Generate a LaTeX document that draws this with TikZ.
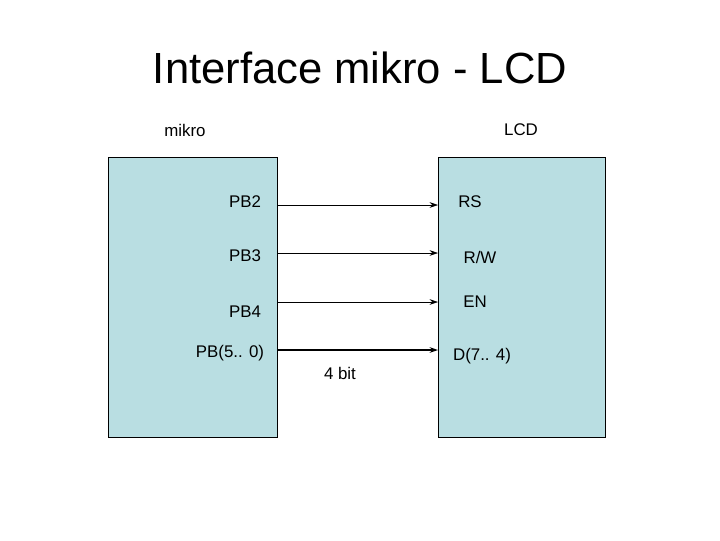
\documentclass[tikz,border=0pt]{standalone}
\usepackage{fontspec}
\setmainfont{Liberation Sans}
\usetikzlibrary{arrows.meta}
\definecolor{boxblue}{RGB}{185,222,226}
\begin{document}
\begin{tikzpicture}[x=0.025cm,y=-0.025cm]
	\tikzstyle{chip} = [draw, fill=boxblue, inner sep=0pt]
	\tikzstyle{lbl} = [font=\fontsize{12}{14}\selectfont]
	\tikzstyle{sig} = [-{Stealth[length=6pt,width=4pt]}, thin]
	\useasboundingbox (0,0) rectangle (720,540);
	% Title
	\node[font=\fontsize{31}{36}\selectfont] (title) at (360,68) {Interface mikro - LCD};
	\node[lbl] (mk) at (185,130) {mikro};
	\node[lbl] (lcdl) at (521,130) {LCD};
	% Boxes
	\draw[chip] (108,157) rectangle (277,437);
	\draw[chip] (438,157) rectangle (605,437);
	% Pin ends
	\coordinate (a1) at (277,205); \coordinate (b1) at (438,205);
	\coordinate (a2) at (277,253); \coordinate (b2) at (438,253);
	\coordinate (a3) at (277,302); \coordinate (b3) at (438,302);
	\coordinate (a4) at (277,350); \coordinate (b4) at (438,350);
	% Pin labels
	\node[lbl] (pb2) at (245,202) {PB2};
	\node[lbl] (pb3) at (245,256) {PB3};
	\node[lbl] (pb4) at (245,312) {PB4};
	\node[lbl] (pb5) at (230,353) {PB(5.. 0)};
	\node[lbl] (rs) at (470,202) {RS};
	\node[lbl] (rw) at (480,257) {R/W};
	\node[lbl] (en) at (475,302) {EN};
	\node[lbl] (d74) at (482,356) {D(7.. 4)};
	\node[lbl] (bits) at (340,373) {4 bit};
	% Connect pins
	\draw[sig] (a1) -- (b1);
	\draw[sig] (a2) -- (b2);
	\draw[sig] (a3) -- (b3);
	\draw[sig, line width=1.6pt] (a4) -- (b4);
\end{tikzpicture}
\end{document}
